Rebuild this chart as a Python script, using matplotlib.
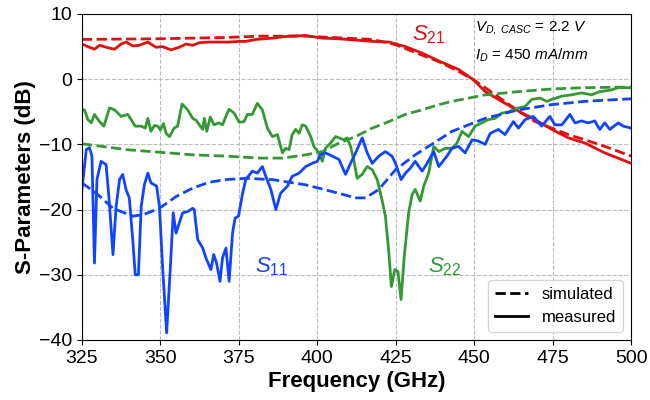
import numpy as np
import matplotlib
matplotlib.use("Agg")
import matplotlib.pyplot as plt
from matplotlib.lines import Line2D

plt.rcParams['font.family'] = ['Liberation Sans', 'DejaVu Sans']
plt.rcParams['mathtext.fontset'] = 'custom'
plt.rcParams['mathtext.rm'] = 'Liberation Sans'
plt.rcParams['mathtext.it'] = 'Liberation Sans:italic'

# S11 measured
s11_f = [325, 326.4, 327.4, 328.2, 329, 329.8, 331.1, 332.7, 333.6, 334.9, 335.9, 337, 338,
         339.1, 340.1, 341.2, 342, 343, 343.9, 344.9, 346, 347, 348.8, 349.7, 350.7, 352,
         353.2, 354.1, 355, 356, 357.1, 358.7, 360.3, 360.8, 361.9, 363.5, 364.5, 366.1,
         367, 367.9, 369, 369.8, 370.9, 371.9, 373, 373.8, 374.9, 376.2, 377.2, 379.3,
         380.9, 382.5, 383.6, 385.2, 386.8, 388.3, 390.5, 392, 394.2, 396.3, 398.4, 400,
         401, 402.6, 404.8, 406.9, 409, 410.6, 412.2, 414.3, 415.9, 417.5, 419.6, 421.7,
         423.8, 424.9, 426.7, 428.1, 429.7, 431.2, 433.4, 435, 437.1, 438.7, 441.3, 442.9,
         445, 447.1, 449.3, 451.4, 453.5, 455.1, 457.7, 459.8, 462.5, 464.1, 466.2, 468.8,
         471.5, 474.1, 475.7, 477.9, 480.5, 482.1, 484.2, 486.3, 488.4, 490, 491.6, 493.2,
         495.9, 497.5, 500]
s11_meas = [-17, -10.8, -10.5, -11.8, -28.2, -15.4, -12.6, -13.1, -18, -26.9, -19.5, -15.4,
            -14.6, -17, -18.2, -24.6, -30, -30, -19.5, -16.2, -14.4, -15.9, -16.4, -19.5,
            -28.7, -38.9, -28.7, -20.5, -23.6, -22.1, -20.5, -20.3, -19.8, -20, -24.6,
            -25.9, -27.4, -29.2, -26.9, -28.2, -31, -27.4, -25.9, -31, -23.6, -21.3, -21,
            -17.5, -15.4, -14.1, -14.4, -13.4, -14.9, -16.9, -20, -17.5, -16.4, -14.9,
            -14.4, -13.4, -12.9, -12.6, -11.6, -11.3, -11.8, -12.3, -14.6, -12.9, -11.3,
            -9, -11.3, -12.9, -11.8, -11.1, -11.8, -12.9, -15.4, -14.4, -13.6, -12.6,
            -14.1, -12.9, -11.1, -13.4, -11.8, -10.6, -10.3, -11.3, -9.3, -9.5, -10,
            -8.3, -7.7, -8.5, -6.5, -7.5, -6.2, -5.7, -7.2, -5.7, -7, -7, -5.4, -6.7,
            -6.4, -6.7, -6.4, -7.7, -6.7, -7.7, -6.7, -7.2, -7.5]

# S11 simulated
s11_sim_f = [325, 329.6, 334.9, 341.2, 344.4, 349.7, 355, 360.3, 365.6, 370.9, 377.2, 385.7,
             396.3, 406.9, 412.2, 415.4, 419.6, 424.9, 431.2, 438.7, 442.9, 453.5, 464.1,
             474.7, 485.3, 500]
s11_sim = [-15.9, -17.5, -19.8, -21, -20.8, -19.8, -18, -16.7, -15.8, -15.4, -15.2, -15.4,
           -16.2, -17.5, -18.2, -18.2, -16.9, -13.9, -11.6, -9.3, -8, -6, -4.7, -3.9,
           -3.4, -3]

# S22 measured
s22_f = [325, 325.8, 326.9, 328, 329, 330.6, 332, 333.8, 335.4, 337.5, 339.6, 340.7, 342,
         343.9, 345.2, 346, 347, 348.1, 349.2, 350, 351, 351.8, 352.9, 354.4, 355.5,
         356.9, 358.7, 360.3, 361.4, 362.4, 363.5, 364, 364.8, 365.9, 367.1, 368.7,
         369.8, 370.9, 371.9, 373.5, 375.1, 376.7, 377.7, 379.3, 380.9, 382.5, 384.1,
         385.7, 387.3, 388.9, 389.9, 391, 392, 393.1, 394.2, 395.2, 396.3, 397.9, 398.9,
         400.5, 401.6, 402.6, 404.2, 405.8, 406.9, 408.5, 409.5, 410.6, 411.6, 412.7,
         414.3, 415.9, 417.5, 419.1, 420.6, 421.7, 422.8, 423.6, 424.7, 425.7, 426.7,
         427.7, 429.1, 430.2, 431.2, 432.8, 433.9, 435.5, 437.1, 438.7, 440.8, 442.9,
         444.5, 446.1, 448.2, 450.3, 452.4, 454.5, 456.7, 458.8, 460.9, 464.1, 466.2,
         468.3, 471, 473.1, 474.7, 477.9, 481, 484.2, 487.4, 490, 493.2, 495.9, 500]
s22_meas = [-4.7, -4.7, -6.2, -6.7, -5.4, -6.5, -7.2, -4.4, -4.7, -5.7, -5.4, -6.2, -7.2,
            -7.2, -7.5, -6, -8, -7.1, -7.2, -7.8, -6.8, -8.3, -8.8, -7.5, -7.2, -3.8, -4.7,
            -6, -6.3, -7, -7.7, -6, -8, -5.8, -7, -6.7, -7, -5.7, -4.6, -5.2, -6.6, -6.5,
            -5.4, -5.4, -3.7, -4.7, -7.5, -8.8, -8.5, -11.3, -10.6, -10.8, -8.5, -7.7,
            -8.3, -7, -7.2, -8.8, -10.3, -11.3, -12.6, -10.6, -9.8, -8.8, -9, -9.3, -9,
            -10.3, -12.3, -15.2, -14.6, -13.4, -13.9, -15.4, -18.5, -21, -26.6, -31.8,
            -29.2, -29.5, -33.8, -27.2, -20.5, -17.7, -16.9, -18.7, -16.4, -14.4, -10.3,
            -11.1, -10.6, -10.6, -9.8, -8, -8.8, -7.2, -6.7, -6.2, -6, -5.2, -5, -4.4,
            -4.2, -3.1, -2.9, -3.4, -3.1, -2.6, -2.4, -2.1, -2.4, -1.9, -1.7, -1.3, -1.3]

# S22 simulated
s22_sim_f = [325, 339.1, 349.7, 360.3, 370.9, 381.5, 389, 396.3, 401.6, 406.9, 412.2, 417.5,
             422.8, 428.1, 433.4, 438.7, 442.9, 453.5, 464.1, 474.7, 485.3, 500]
s22_sim = [-9.9, -10.8, -11.2, -11.6, -11.8, -12.1, -12.1, -11.6, -11.1, -9.8, -8.8, -7.5,
           -6.5, -5.4, -4.7, -3.9, -3.4, -2.4, -1.9, -1.5, -1.3, -1.2]

# S21 measured
s21_f = [325, 326.4, 329, 330.6, 332.7, 335.4, 337.5, 339.1, 341.2, 343.3, 346, 348.6,
         350.7, 353.4, 356, 358.2, 360.3, 362.4, 365.6, 368.7, 371.9, 375.1, 377.2, 380.4,
         385.7, 391, 396.3, 401.6, 406.9, 412.2, 417.5, 422.8, 428.1, 433.4, 438.7, 445,
         449.8, 453.5, 458.8, 464.1, 469.4, 474.7, 480, 485.3, 491.6, 500]
s21_meas = [5.4, 5.1, 4.6, 5.2, 4.9, 4.6, 5.4, 5.7, 5.1, 5.2, 5.7, 4.9, 5, 4.5, 4.9, 5.4,
            5.2, 5.6, 5.7, 5.7, 5.7, 5.8, 5.8, 6.1, 6.3, 6.6, 6.7, 6.3, 6.2, 6, 5.8, 5.7,
            5, 4, 2.8, 1.5, -0.1, -1.9, -3.4, -4.9, -6.2, -7.7, -9, -9.8, -11.3, -12.9]

# S21 simulated
s21_sim_f = [325, 349.7, 370.9, 381.5, 396.3, 417.5, 424.9, 431.2, 438.7, 445, 449.8, 453.5,
             458.8, 464.1, 469.4, 474.7, 480, 485.3, 491.6, 500]
s21_sim = [6.1, 6.2, 6.4, 6.6, 6.6, 6.1, 5.3, 4.1, 2.7, 1.2, -0.1, -1.3, -3.1, -4.9, -6.5,
           -7.5, -8.5, -9.3, -10.3, -11.8]

red = '#dd1111'
blue = '#1144ff'
green = '#339933'

fig = plt.figure(figsize=(6.5, 4), dpi=100)
ax = fig.add_axes([0.126, 0.15, 0.845, 0.815])

lw = 2
ax.plot(s21_sim_f, s21_sim, '--', color=red, lw=lw)
ax.plot(s21_f, s21_meas, '-', color=red, lw=lw)
ax.plot(s22_sim_f, s22_sim, '--', color=green, lw=lw)
ax.plot(s22_f, s22_meas, '-', color=green, lw=lw)
ax.plot(s11_sim_f, s11_sim, '--', color=blue, lw=lw)
ax.plot(s11_f, s11_meas, '-', color=blue, lw=lw)

ax.set_xlim(325, 500)
ax.set_ylim(-40, 10)
ax.set_xticks([325, 350, 375, 400, 425, 450, 475, 500])
ax.set_yticks([-40, -30, -20, -10, 0, 10])
ax.tick_params(labelsize=14)
ax.grid(True, ls='--', color='#bbbbbb', lw=0.8)

ax.set_xlabel('Frequency (GHz)', fontsize=16, fontweight='bold', labelpad=3)
ax.set_ylabel('S-Parameters (dB)', fontsize=16, fontweight='bold', labelpad=2)

ax.text(435.5, 6.9, r'$S_{21}$', color=red, fontsize=16, ha='center', va='center')
ax.text(385.3, -28.8, r'$S_{11}$', color=blue, fontsize=16, ha='center', va='center')
ax.text(440.5, -28.8, r'$S_{22}$', color=green, fontsize=16, ha='center', va='center')
ax.text(450.3, 9.2, r'$V_{D,\ CASC}$ = 2.2 $V$', fontsize=11, va='top')
ax.text(450.3, 5.0, r'$I_D$ = 450 $mA/mm$', fontsize=11, va='top')

handles = [Line2D([0], [0], color='black', ls='--', lw=2),
           Line2D([0], [0], color='black', ls='-', lw=2)]
ax.legend(handles, ['simulated', 'measured'], loc='lower right', fontsize=12)

fig.savefig('out.png', dpi=100)
